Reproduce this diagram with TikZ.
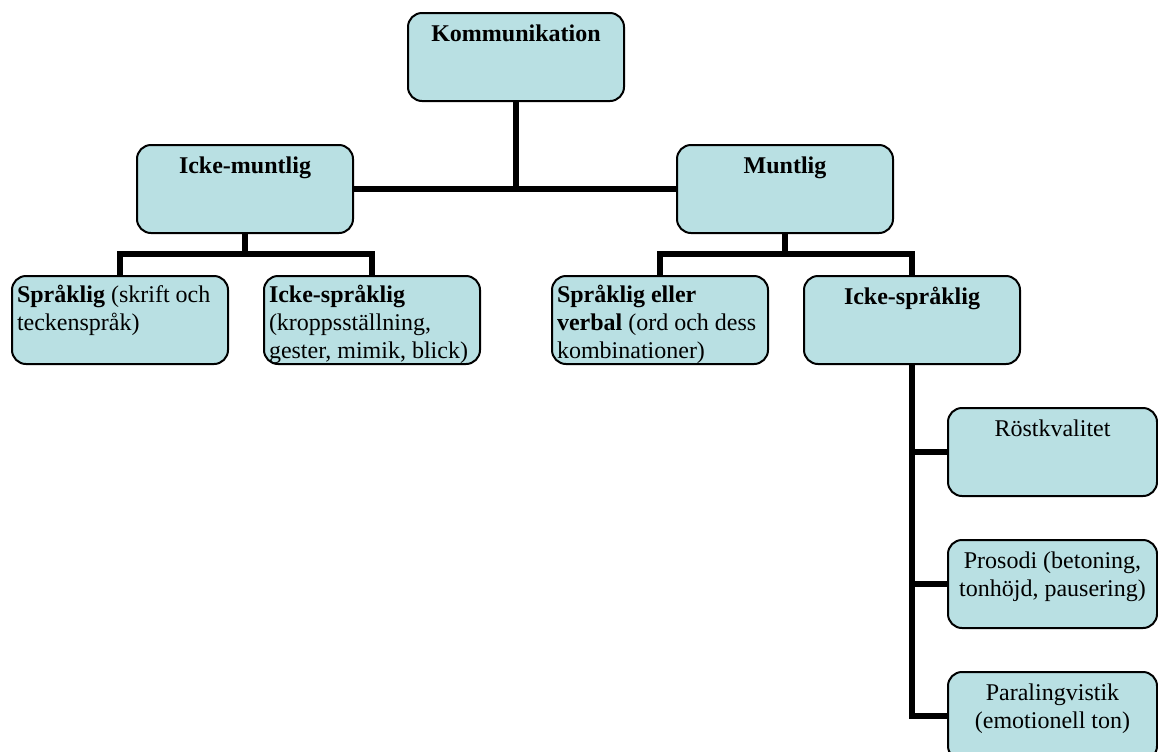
\documentclass[tikz,border=0pt]{standalone}
\usepackage{fontspec}
\setmainfont{Liberation Serif}
\usetikzlibrary{calc}
\definecolor{boxfill}{HTML}{B9E0E3}
\newcommand{\midtext}[2][108pt]{\parbox[c][44pt][t]{#1}{\centering\begin{tabular}[t]{@{}c@{}}\rule{0pt}{14pt}#2\end{tabular}}}
\newcommand{\lefttext}[2][108pt]{\parbox[c][44pt][t]{#1}{\hspace*{2.5pt}\begin{tabular}[t]{@{}l@{}}\rule{0pt}{13pt}#2\end{tabular}}}

\begin{document}
\begin{tikzpicture}[x=0.5pt,y=-0.5pt,font=\fontsize{12}{14}\selectfont,
  box/.style={draw=black,line width=1pt,rounded corners=7pt,fill=boxfill,inner sep=0pt},
  link/.style={line width=3pt}]
  \useasboundingbox (0,0) rectangle (1158,751);
  \node[box] (komm) at (516,57) {\midtext{\textbf{Kommunikation}}};
  \node[box] (ickem) at (245,189) {\midtext{\textbf{Icke-muntlig}}};
  \node[box] (munt) at (785,189) {\midtext{\textbf{Muntlig}}};
  \node[box] (sprak1) at (120,320) {\lefttext{\textbf{Språklig} (skrift och\\teckenspråk)}};
  \node[box] (ickesp1) at (372,320) {\lefttext{\textbf{Icke-språklig}\\(kroppsställning,\\gester, mimik, blick)}};
  \node[box] (sprak2) at (660,320) {\lefttext{\textbf{Språklig eller}\\\textbf{verbal} (ord och dess\\kombinationer)}};
  \node[box] (ickesp2) at (912,320) {\midtext{\textbf{Icke-språklig}}};
  \node[box] (roest) at (1052.5,452) {\midtext[104.5pt]{Röstkvalitet}};
  \node[box] (pros) at (1052.5,584) {\midtext[104.5pt]{Prosodi (betoning,\\tonhöjd, pausering)}};
  \node[box] (para) at (1052.5,716) {\midtext[104.5pt]{Paralingvistik\\(emotionell ton)}};
  \coordinate (ickemj) at ($(ickem.south)+(0,20)$);
  \coordinate (muntj) at ($(munt.south)+(0,20)$);
  \draw[link] (komm.south) -- (komm.south |- ickem.east);
  \draw[link] (ickem.east) -- (munt.west);
  \draw[link] (ickem.south) -- (ickemj);
  \draw[link] (sprak1.north) |- (ickemj) -| (ickesp1.north);
  \draw[link] (munt.south) -- (muntj);
  \draw[link] (sprak2.north) |- (muntj) -| (ickesp2.north);
  \draw[link] (ickesp2.south) |- (para.west);
  \draw[link] (ickesp2.south |- roest.west) -- (roest.west);
  \draw[link] (ickesp2.south |- pros.west) -- (pros.west);
\end{tikzpicture}
\end{document}
